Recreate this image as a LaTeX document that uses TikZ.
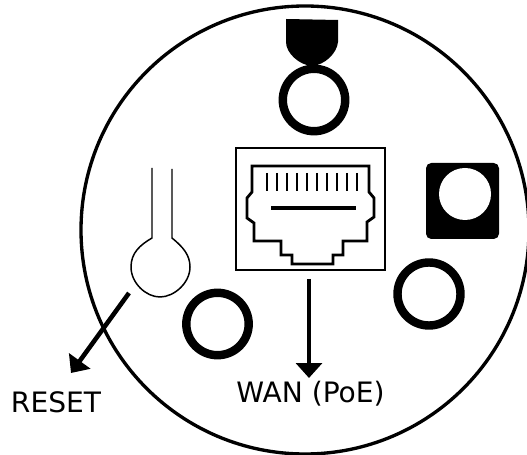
\documentclass[tikz,border=0pt]{standalone}
\usepackage{fontspec}
\setmainfont{DejaVu Sans}
\usetikzlibrary{arrows.meta}
\tikzset{
    ring/.style={line width=4.8pt},
    thinline/.style={line width=0.85pt},
    bigarrow/.style={line width=2.6pt, -{Stealth[length=8.5pt, width=14.7pt, inset=0pt]}},
    label/.style={font=\fontsize{16pt}{19pt}\selectfont, inner sep=0pt}
}

\begin{document}
\begin{tikzpicture}[x=0.02cm, y=-0.02cm]
        \useasboundingbox (0,0) rectangle (527,455);
        \clip (0,0) rectangle (527,455);

        \draw[line width=1.9pt] (305,230) circle (224);

        % antenna plug on top
        \fill (286,19) -- (338,20) -- (338,42) .. controls (337,53) and (325,65) .. (312,66)
            .. controls (299,65) and (286,53) .. (286,42) -- cycle;
        \draw[ring] (314,100) circle (31.2);

        % side connectors
        \fill[rounded corners=3pt] (426,163) rectangle (499,239);
        \fill[white] (465,194) circle (26);
        \draw[ring] (429,294) circle (31.5);
        \draw[ring] (217.5,324) circle (31.2);

        % ethernet socket
        \draw[line width=1.5pt] (236,148) rectangle (385,270);
        \draw[line width=1.6pt] (252,166) -- (369,166) -- (369,192) -- (374,198) -- (374,217) -- (367,222)
            -- (367,241) -- (343,241) -- (343,255) -- (333,255) -- (333,264) -- (292,264) -- (292,255)
            -- (281,255) -- (281,241) -- (254,241) -- (254,223) -- (247,218) -- (247,198) -- (252,192) -- cycle;
        \foreach \x in {0,...,9} {
            \draw[line width=1.6pt] ({267+10*\x},173) -- ({267+10*\x},191);
        }
        \draw[line width=2.7pt] (271,208) -- (356,208);

        % reset hole
        \draw[thinline] (152,168) -- (152,238) .. controls (140,245) and (131,253) .. (131,267)
            .. controls (131,283) and (146,297) .. (160,297)
            .. controls (174,297) and (190,283) .. (190,267)
            .. controls (190,255) and (183,247) .. (172,238) -- (172,169);

        \coordinate (resetstart) at (129,293);
        \coordinate (resettip) at (71,373);
        \coordinate (wanstart) at (309,279);
        \coordinate (wantip) at (309,378);
        \draw[bigarrow] (resetstart) -- (resettip);
        \draw[bigarrow] (wanstart) -- (wantip);

        \node[label] (reset) at (56,402) {RESET};
        \node[label] (wan) at (310.5,394) {WAN (PoE)};

    \end{tikzpicture}
\end{document}
